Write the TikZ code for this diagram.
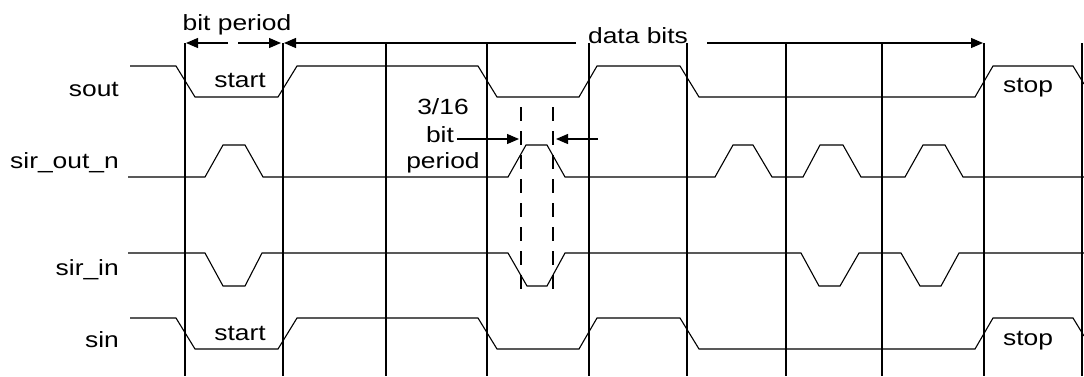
\documentclass[tikz,border=0pt]{standalone}
\usepackage{fontspec}
\setmainfont{Liberation Sans}[FakeStretch=1.2]
\usetikzlibrary{arrows.meta}
\begin{document}
\begin{tikzpicture}[x=1pt,y=-1pt,
  gridline/.style={line width=1.3pt},
  wave/.style={line width=1.1pt, line join=miter},
  lbl/.style={font=\fontsize{22}{26}\selectfont, inner sep=0pt},
  tipline/.style={-{Triangle[length=12pt,width=10pt]}, line width=1.2pt},
  guide/.style={dash pattern=on 14pt off 10pt, line width=1.2pt}]
\useasboundingbox (0,0) rectangle (1084,376);
% grid lines
\foreach \gx in {185,283,386,487,589,687,786,882,984,1082}
  \draw[gridline] (\gx,43) -- (\gx,376);
% signal labels
\node[lbl, anchor=base east] (lsout) at (119,96) {sout};
\node[lbl, anchor=base east] (lsirout) at (119,168) {sir\_out\_n};
\node[lbl, anchor=base east] (lsirin) at (119,275) {sir\_in};
\node[lbl, anchor=base east] (lsin) at (119,347) {sin};
% in-waveform labels
\node[lbl, anchor=base] (st1) at (240,87) {start};
\node[lbl, anchor=base] (st2) at (240,340) {start};
\node[lbl, anchor=base] (sp1) at (1028,92) {stop};
\node[lbl, anchor=base] (sp2) at (1028,345) {stop};
\node[lbl, anchor=base] (bp) at (237,30) {bit period};
\node[lbl, anchor=base] (db) at (638,43) {data bits};
\node[lbl, anchor=base] (f1) at (443,114) {3/16};
\node[lbl, anchor=base] (f2) at (440,142) {bit};
\node[lbl, anchor=base] (f3) at (443,168) {period};
% waveforms
\draw[wave] (130,66) -- (176,66) -- (195,97) -- (278,97) -- (297,66) -- (478,66) -- (497,97) -- (579,97) -- (597,66) -- (680,66) -- (699,97) -- (975,97) -- (993,66) -- (1073,66) -- (1084,84);
\draw[wave] (128,177) -- (205,177) -- (223,145) -- (245,145) -- (263,177) -- (508,177) -- (526,145) -- (547,145) -- (565,177) -- (715,177) -- (733,145) -- (753,145) -- (772,177) -- (803,177) -- (820,145) -- (843,145) -- (861,177) -- (905,177) -- (923,145) -- (945,145) -- (963,177) -- (1084,177);
\draw[wave] (128,253) -- (205,253) -- (223,286) -- (245,286) -- (262,253) -- (508,253) -- (527,286) -- (547,286) -- (565,253) -- (801,253) -- (819,286) -- (840,286) -- (859,253) -- (901,253) -- (920,286) -- (941,286) -- (959,253) -- (1084,253);
\draw[wave] (130,318) -- (176,318) -- (195,349) -- (278,349) -- (297,318) -- (478,318) -- (497,349) -- (579,349) -- (597,318) -- (680,318) -- (699,349) -- (975,349) -- (993,318) -- (1073,318) -- (1084,336);
% bit period arrows
\coordinate (bpL) at (228,43);
\coordinate (bpLt) at (186,43);
\coordinate (bpR) at (238,43);
\coordinate (bpRt) at (281,43);
\draw[tipline] (bpL) -- (bpLt);
\draw[tipline] (bpR) -- (bpRt);
% data bits arrows
\coordinate (dbL) at (576,43);
\coordinate (dbLt) at (284,43);
\coordinate (dbR) at (707,43);
\coordinate (dbRt) at (983,43);
\draw[tipline] (dbL) -- (dbLt);
\draw[tipline] (dbR) -- (dbRt);
% 3/16 bit period guides
\draw[guide] (521,107) -- (521,290);
\draw[guide] (553,107) -- (553,290);
\coordinate (fa) at (457,139);
\coordinate (fat) at (519,139);
\coordinate (fb) at (598,139);
\coordinate (fbt) at (556,139);
\draw[tipline] (fa) -- (fat);
\draw[tipline] (fb) -- (fbt);
\end{tikzpicture}
\end{document}
